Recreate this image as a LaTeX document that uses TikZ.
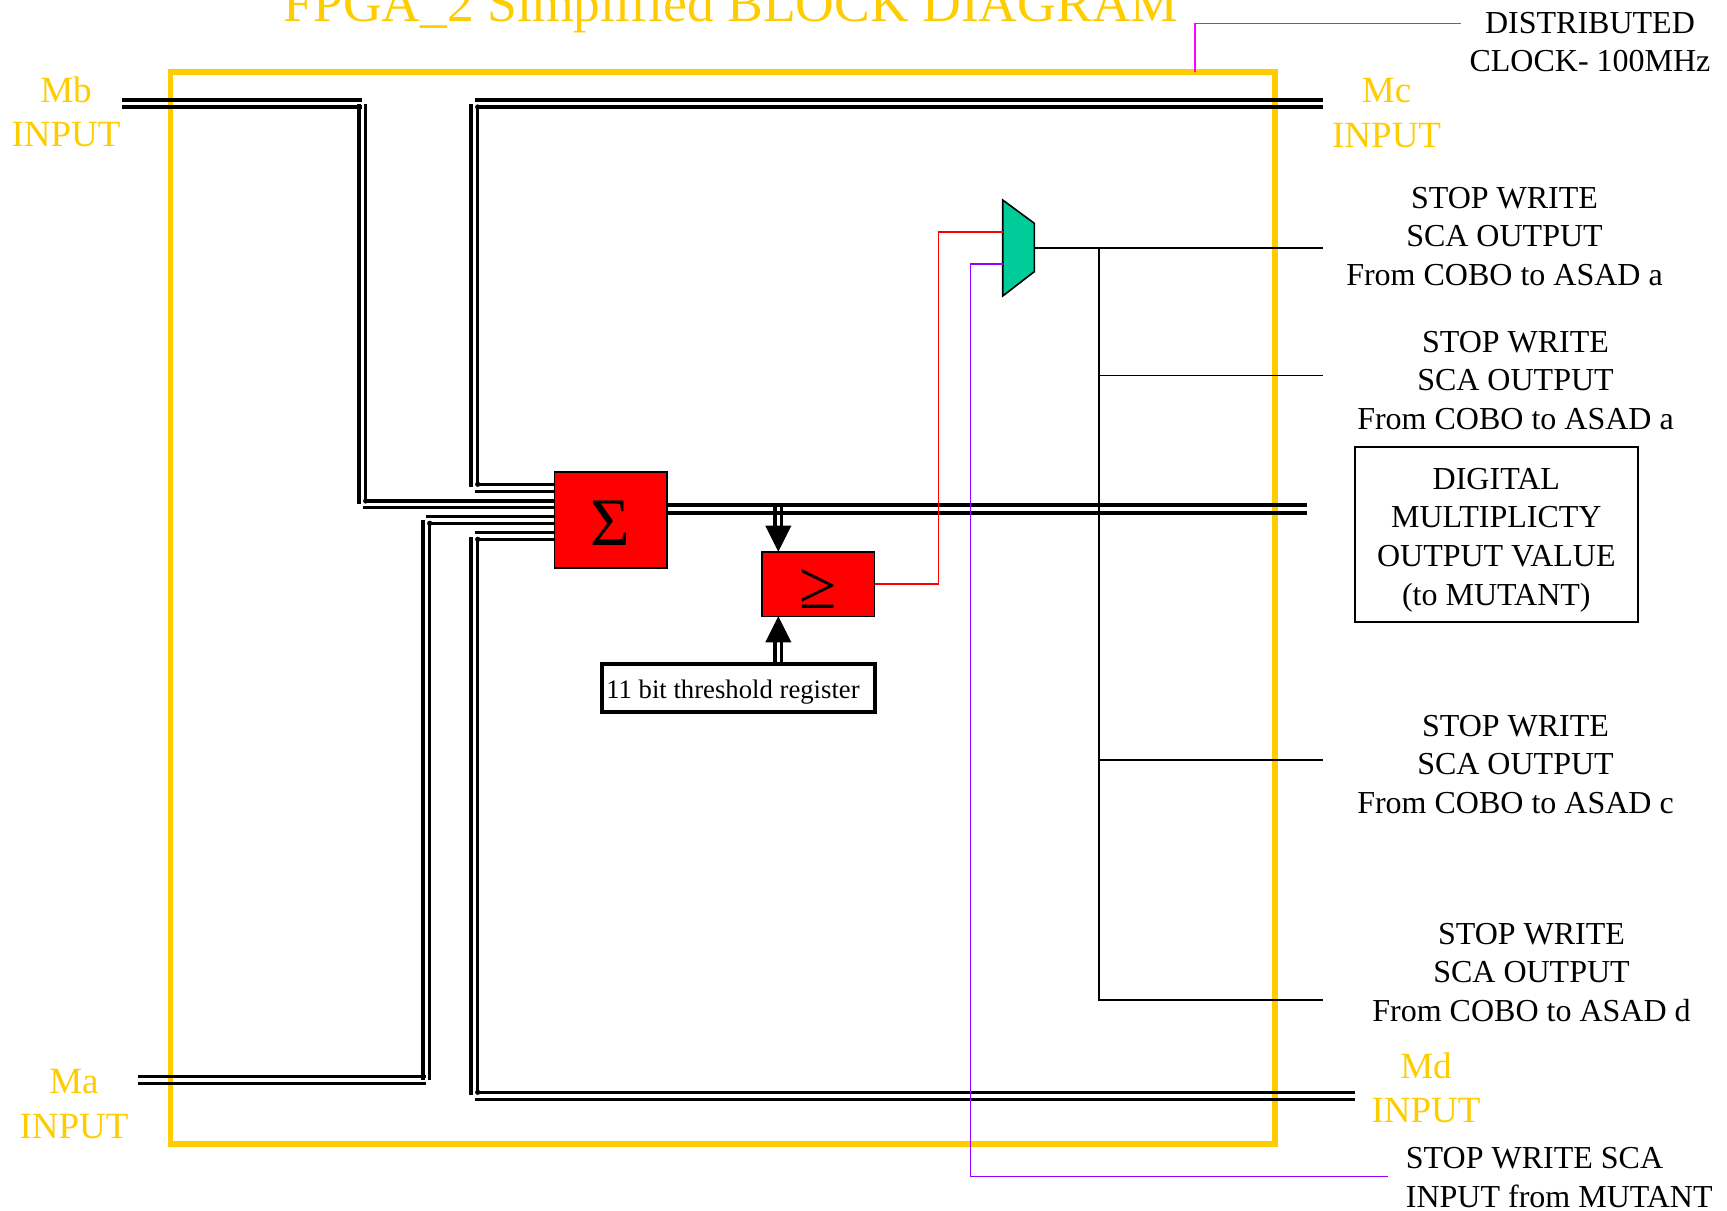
\documentclass[tikz,border=0pt]{standalone}
\usepackage{fontspec}
\setmainfont{Liberation Serif}
\definecolor{fpgayellow}{HTML}{FFCC00}
\definecolor{muxteal}{HTML}{00CC99}
\definecolor{sigpurple}{HTML}{9900FF}
\definecolor{clkmagenta}{HTML}{FF00FF}
\tikzset{
  busline/.style={draw=black,line width=1.65pt,line cap=butt},
  thinline/.style={draw=black,line width=0.8pt},
  redbox/.style={draw=black,fill=red,line width=0.8pt,inner sep=0pt,minimum width=56.2pt,anchor=center},
  blacktext/.style={align=center,font=\fontsize{16}{19.3}\selectfont,inner sep=0pt,text=black},
  yellowtext/.style={align=center,font=\fontsize{18.5}{22.2}\selectfont,inner sep=0pt,text=fpgayellow},
  busdot/.style={fill=black,draw=none},
  headfill/.style={fill=black,draw=none}
}
\begin{document}
\begin{tikzpicture}[x=0.5pt,y=-0.5pt]
\useasboundingbox (0,0) rectangle (1727,1210);
\clip (0,0) rectangle (1727,1210);
% title and outer frame
\node[anchor=base,inner sep=0pt,text=fpgayellow,font=\fontsize{26.8}{32}\selectfont] (title) at (731,21) {FPGA\_2 Simplified BLOCK DIAGRAM};
\coordinate (fNW) at (170.5,72);
\coordinate (fSE) at (1275,1144);
\draw[fpgayellow,line width=2.75pt] (fNW) rectangle (fSE);
% clock
\node[blacktext] (clk) at (1590,42) {DISTRIBUTED\\CLOCK- 100MHz};
\coordinate (clkA) at (1195,72);
\coordinate (clkB) at (1195,23.5);
\coordinate (clkC) at (1461,23.5);
\draw[clkmagenta,line width=0.8pt] (clkA) -- (clkB) -- (clkC);
% blocks
\node[redbox,minimum height=48pt,font=\fontsize{34}{34}\selectfont] (sum) at (610.5,519.7) {\smash{\raisebox{-12.65pt}{Σ}}};
\node[redbox,minimum height=32.3pt,font=\fontsize{34}{34}\selectfont] (geq) at (818.3,584) {\smash{\raisebox{-12pt}{≥}}};
\node[draw=black,line width=2pt,fill=white,inner sep=0pt,minimum width=136.5pt,minimum height=24pt,font=\fontsize{13.35}{16}\selectfont] (thr) at (738.5,687.5) {\smash{\raisebox{-5.25pt}{11 bit threshold register}}\hspace{5.5pt}\null};
% Mb bus
\coordinate (mbA) at (122,100); \coordinate (mbB) at (362,100);
\coordinate (mbC) at (122,107); \coordinate (mbD) at (362,107);
\draw[busline] (mbA) -- (mbB); \draw[busline] (mbC) -- (mbD);
\coordinate (mbE) at (359,104); \coordinate (mbF) at (359,503.5);
\coordinate (mbG) at (365.7,104); \coordinate (mbH) at (365.7,501);
\draw[busline] (mbE) -- (mbF); \draw[busline] (mbG) -- (mbH);
\draw[busline] (mbH) -- (mbH -| sum.west);
\coordinate (mbI) at (363,507.5);
\draw[busline] (mbI) -- (mbI -| sum.west);
% Mc bus
\coordinate (mcA) at (475,100); \coordinate (mcB) at (1323,100);
\coordinate (mcC) at (477.7,107); \coordinate (mcD) at (1323,107);
\draw[busline] (mcA) -- (mcB); \draw[busline] (mcC) -- (mcD);
\coordinate (mcE) at (471,104); \coordinate (mcF) at (471,487);
\coordinate (mcH) at (477.7,484.3);
\draw[busline] (mcE) -- (mcF); \draw[busline] (mcC) -- (mcH);
\draw[busline] (mcH) -- (mcH -| sum.west);
\coordinate (mcI) at (475,491.3);
\draw[busline] (mcI) -- (mcI -| sum.west);
% Ma bus
\coordinate (maA) at (138,1076.3); \coordinate (maB) at (426,1076.3);
\coordinate (maC) at (138,1083.3); \coordinate (maD) at (426,1083.3);
\draw[busline] (maA) -- (maB); \draw[busline] (maC) -- (maD);
\coordinate (maE) at (423,1080); \coordinate (maF) at (423,520);
\coordinate (maG) at (429.7,1080); \coordinate (maH) at (429.7,523.3);
\draw[busline] (maE) -- (maF); \draw[busline] (maG) -- (maH);
\draw[busline] (maH) -- (maH -| sum.west);
\coordinate (maI) at (426,516.3);
\draw[busline] (maI) -- (maI -| sum.west);
% Md bus
\coordinate (mdA) at (477.7,1092.3); \coordinate (mdB) at (1355,1092.3);
\coordinate (mdC) at (475,1099.3); \coordinate (mdD) at (1355,1099.3);
\draw[busline] (mdA) -- (mdB); \draw[busline] (mdC) -- (mdD);
\coordinate (mdE) at (471,1095); \coordinate (mdF) at (471,536.7);
\coordinate (mdH) at (477.7,539.3);
\draw[busline] (mdE) -- (mdF); \draw[busline] (mdA) -- (mdH);
\draw[busline] (mdH) -- (mdH -| sum.west);
\coordinate (mdI) at (475,532.3);
\draw[busline] (mdI) -- (mdI -| sum.west);
% corner dots
\foreach \p in {mbH,mcH,maH,mdH,mcC,mdA}{\fill[busdot] (\p) circle[radius=2.6];}
\coordinate (mbK) at (359,107); \coordinate (maK) at (423,1076.3);
\fill[busdot] (mbK) circle[radius=2.6]; \fill[busdot] (maK) circle[radius=2.6];
% output bus
\coordinate (outA) at (1307,505);
\coordinate (outB) at (1307,513);
\draw[busline] (outA -| sum.east) -- (outA);
\draw[busline] (outB -| sum.east) -- (outB);
% arrows to comparator
\coordinate (dnA) at (775,505); \coordinate (dnB) at (781.7,505);
\coordinate (dnTip) at (778.3,551.7);
\draw[busline] (dnA) -- (775,527); \draw[busline] (dnB) -- (781.7,527);
\fill[headfill] (765.3,525.7) -- (791.3,525.7) -- (dnTip) -- cycle;
\coordinate (upTip) at (778.3,616.3);
\draw[busline] (775,663) -- (775,641); \draw[busline] (781.7,663) -- (781.7,641);
\fill[headfill] (765.3,642.3) -- (791.3,642.3) -- (upTip) -- cycle;
% mux
\coordinate (muxA) at (1002.7,200); \coordinate (muxB) at (1034.3,223.3);
\coordinate (muxC) at (1034.3,271.7); \coordinate (muxD) at (1002.7,296);
\draw[fill=muxteal,draw=black,line width=0.8pt,line join=miter] (muxA) -- (muxB) -- (muxC) -- (muxD) -- cycle;
% red and purple signals
\coordinate (redKnee) at (938.3,231.7);
\coordinate (muxRed) at (1002.7,231.7);
\draw[red,line width=0.8pt] (geq.east) -| (redKnee) -- (muxRed);
\coordinate (muxPur) at (1002.7,264);
\coordinate (purKnee) at (970.3,264);
\coordinate (purB) at (970.3,1176.5);
\coordinate (purC) at (1388,1176.5);
\draw[sigpurple,line width=0.8pt] (muxPur) -- (purKnee) -- (purB) -- (purC);
% stop write outputs
\coordinate (stopMux) at (1034.3,247.7);
\coordinate (stopTrunk) at (1099,247.7);
\coordinate (stopA) at (1323,247.7);
\coordinate (stopB) at (1323,375.6);
\coordinate (stopC) at (1323,760);
\coordinate (stopD) at (1323,1000);
\draw[thinline] (stopMux) -- (stopA);
\draw[thinline] (stopTrunk) -- (stopTrunk |- stopD) -- (stopD);
\draw[thinline] (stopTrunk |- stopB) -- (stopB);
\draw[thinline] (stopTrunk |- stopC) -- (stopC);
% labels
\node[yellowtext] (lmb) at (66,112) {Mb\\INPUT};
\node[yellowtext] (lmc) at (1386.6,113) {Mc\\INPUT};
\node[yellowtext] (lma) at (74,1104) {Ma\\INPUT};
\node[yellowtext] (lmd) at (1426,1088) {Md\\INPUT};
\node[blacktext] (sa) at (1504.5,236.5) {STOP WRITE\\SCA OUTPUT\\From COBO to ASAD a};
\node[blacktext] (sb) at (1515.5,380.5) {STOP WRITE\\SCA OUTPUT\\From COBO to ASAD a};
\node[blacktext] (sc) at (1515.5,764.5) {STOP WRITE\\SCA OUTPUT\\From COBO to ASAD c};
\node[blacktext] (sd) at (1531.5,972.5) {STOP WRITE\\SCA OUTPUT\\From COBO to ASAD d};
\node[draw=black,line width=0.8pt,inner sep=0pt,minimum width=141.6pt,minimum height=87.5pt] (dm) at (1496.3,534.5) {};
\node[blacktext] (dmt) at (1496.3,540) {DIGITAL\\MULTIPLICTY\\OUTPUT VALUE\\(to MUTANT)};
\node[blacktext,align=left,anchor=west] (sw) at (1405.5,1177.5) {STOP WRITE SCA\\INPUT from MUTANT};
\end{tikzpicture}
\end{document}
